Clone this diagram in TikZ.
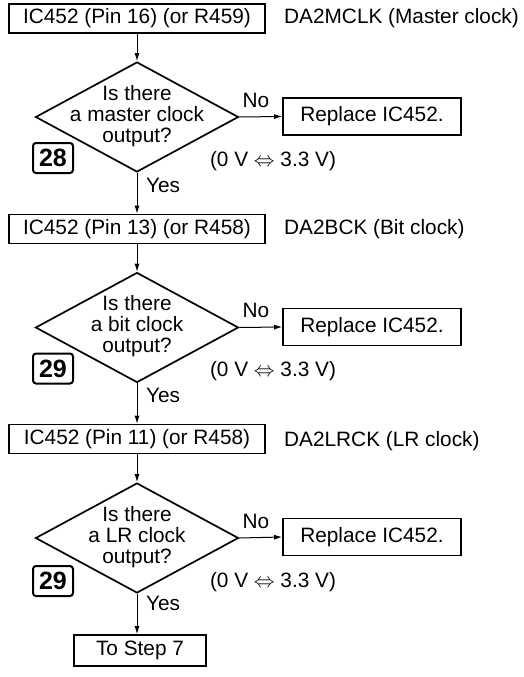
\documentclass[tikz,border=0pt]{standalone}
\usepackage{fontspec}
\setmainfont{Liberation Sans}
\usetikzlibrary{shapes.geometric,arrows.meta}
\tikzset{
  every node/.style={font=\fontsize{20.8}{21}\selectfont, inner sep=0pt, text=black},
  pbox/.style={draw, line width=1.7pt, minimum width=256pt, minimum height=29pt},
  rbox/.style={draw, line width=1.7pt, minimum width=178pt, minimum height=37pt},
  sbox/.style={draw, line width=1.7pt, minimum width=132pt, minimum height=31pt},
  nbox/.style={draw, line width=2pt, rounded corners=3pt, minimum width=40pt, minimum height=30pt, font=\fontsize{25}{25}\selectfont\bfseries},
  dia/.style={draw, diamond, line width=1.7pt, minimum width=203pt, minimum height=110pt},
  dtext/.style={align=center},
  side/.style={anchor=west},
  conn/.style={line width=1pt, -{Latex[length=8pt,width=5pt]}},
}
\begin{document}
\begin{tikzpicture}[x=1pt,y=-1pt]
\useasboundingbox (0,0) rectangle (524,677);
% section 1
\node[pbox] (b1) at (137,18.5) {IC452 (Pin 16) (or R459)};
\node[side] (s1) at (284,18.5) {DA2MCLK (Master clock)};
\node[dia] (d1) at (137,117) {};
\node[dtext] (t1) at (137,116) {Is there\\a master clock\\output?};
\node (n1) at (256,100) {No};
\node[rbox] (r1) at (372,116.5) {Replace IC452.};
\node (v1) at (273,161) {(0 V $\Leftrightarrow$ 3.3 V)};
\node[nbox] (k1) at (53,158) {28};
\node[anchor=west] (y1) at (146,185) {Yes};
% section 2
\node[pbox] (b2) at (137,229) {IC452 (Pin 13) (or R458)};
\node[side] (s2) at (284,229) {DA2BCK (Bit clock)};
\node[dia] (d2) at (137,327.5) {};
\node[dtext] (t2) at (137,326.5) {Is there\\a bit clock\\output?};
\node (n2) at (256,310.5) {No};
\node[rbox] (r2) at (372,327) {Replace IC452.};
\node (v2) at (273,371.5) {(0 V $\Leftrightarrow$ 3.3 V)};
\node[nbox] (k2) at (53,368.5) {29};
\node[anchor=west] (y2) at (146,395) {Yes};
% section 3
\node[pbox] (b3) at (137,439) {IC452 (Pin 11) (or R458)};
\node[side] (s3) at (284,441) {DA2LRCK (LR clock)};
\node[dia] (d3) at (137,538) {};
\node[dtext] (t3) at (137,537) {Is there\\a LR clock\\output?};
\node (n3) at (256,521) {No};
\node[rbox] (r3) at (372,537) {Replace IC452.};
\node (v3) at (273,582) {(0 V $\Leftrightarrow$ 3.3 V)};
\node[nbox] (k3) at (53,581) {29};
\node[anchor=west] (y3) at (146,603) {Yes};
% end
\node[sbox] (e) at (140,650.5) {To Step 7};
% connectors
\draw[conn] (b1.south -| d1.north) -- (d1.north);
\draw[conn] (d1.east) -- (r1.west);
\draw[conn] (d1.south) -- (d1.south |- b2.north);
\draw[conn] (b2.south -| d2.north) -- (d2.north);
\draw[conn] (d2.east) -- (r2.west);
\draw[conn] (d2.south) -- (d2.south |- b3.north);
\draw[conn] (b3.south -| d3.north) -- (d3.north);
\draw[conn] (d3.east) -- (r3.west);
\draw[conn] (d3.south) -- (d3.south |- e.north);
\end{tikzpicture}
\end{document}
